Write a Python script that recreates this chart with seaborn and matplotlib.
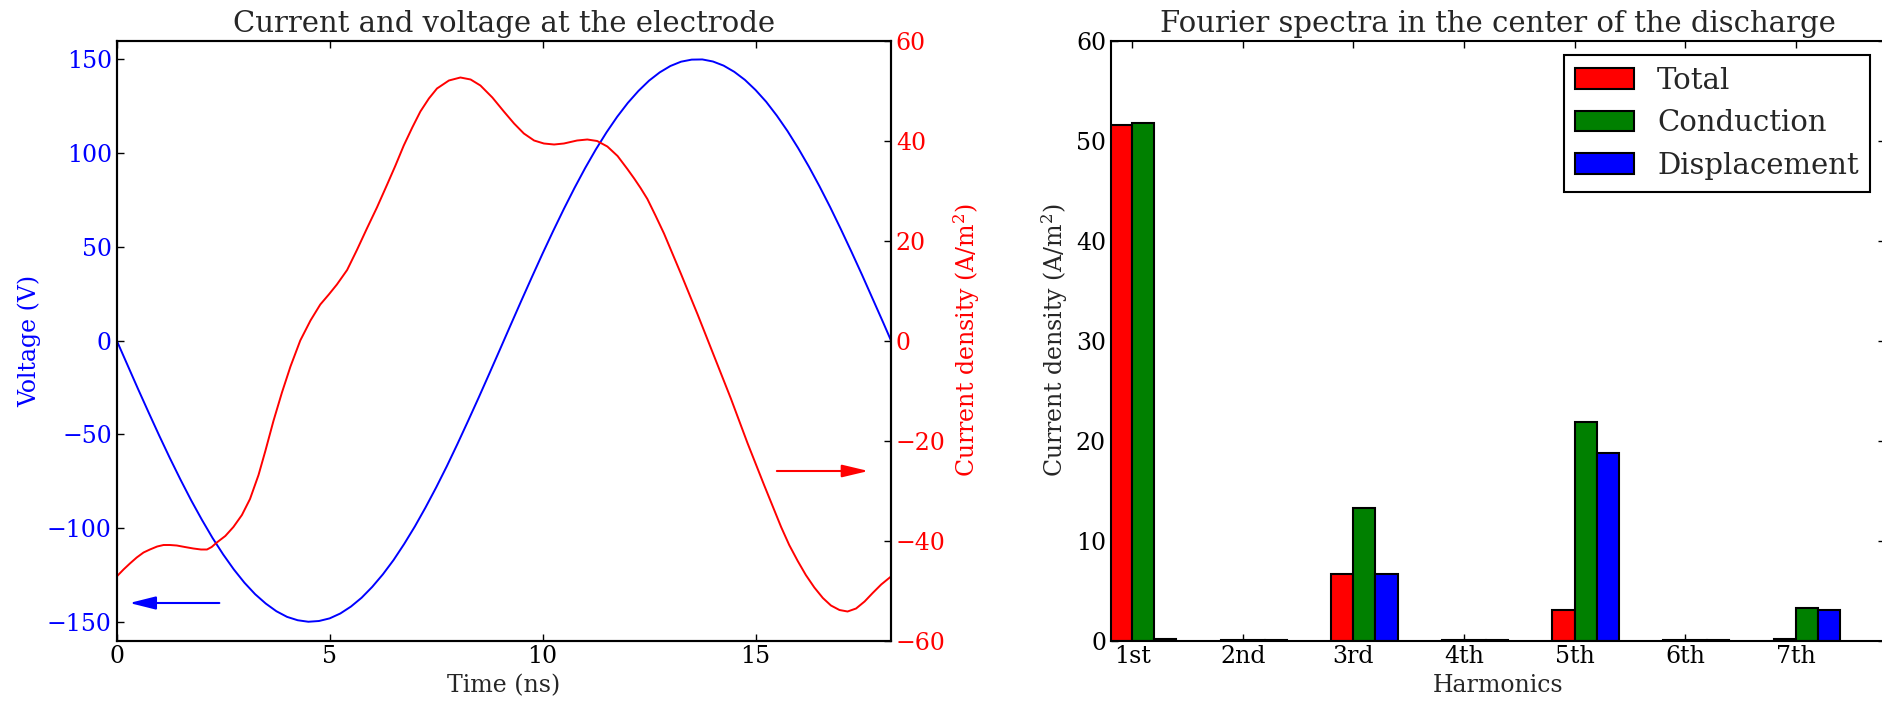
import numpy as np
import pandas as pd
import matplotlib
matplotlib.use("Agg")
import matplotlib.pyplot as plt
from matplotlib.patches import Patch
import seaborn as sns

# Electrode voltage over one RF period (ns, V)
time_v = [0.0, 0.25, 0.5, 0.75, 1.0, 1.25, 1.5, 1.75, 2.0, 2.25, 2.5, 2.75,
          3.0, 3.25, 3.5, 3.75, 4.0, 4.25, 4.5, 4.75, 5.0, 5.25, 5.5, 5.75,
          6.0, 6.25, 6.5, 6.75, 7.0, 7.25, 7.5, 7.75, 8.0, 8.25, 8.5, 8.75,
          9.0, 9.25, 9.5, 9.75, 10.0, 10.25, 10.5, 10.75, 11.0, 11.25, 11.5,
          11.75, 12.0, 12.25, 12.5, 12.75, 13.0, 13.25, 13.5, 13.75, 14.0,
          14.25, 14.5, 14.75, 15.0, 15.25, 15.5, 15.75, 16.0, 16.25, 16.5,
          16.75, 17.0, 17.25, 17.5, 17.75, 18.0, 18.18]
voltage = [0.0, -12.9, -25.8, -38.4, -50.8, -62.8, -74.3, -85.3, -95.6,
           -105.3, -114.1, -122.1, -129.2, -135.3, -140.3, -144.4, -147.4,
           -149.2, -150.0, -149.6, -148.2, -145.6, -141.9, -137.2, -131.4,
           -124.7, -117.1, -108.5, -99.2, -89.1, -78.4, -67.1, -55.2, -42.9,
           -30.4, -17.6, -4.7, 8.3, 21.2, 33.9, 46.4, 58.5, 70.2, 81.4, 92.0,
           101.9, 111.0, 119.3, 126.7, 133.1, 138.6, 143.0, 146.4, 148.7,
           149.8, 149.9, 148.8, 146.6, 143.3, 139.0, 133.6, 127.3, 119.9,
           111.7, 102.6, 92.8, 82.3, 71.2, 59.5, 47.4, 35.0, 22.2, 9.4, 0.0]

# Current density at the electrode (ns, A/m^2)
time_j = [0.00, 0.16, 0.31, 0.47, 0.63, 0.78, 0.95, 1.10, 1.25, 1.41, 1.60,
          1.80, 1.98, 2.12, 2.23, 2.35, 2.55, 2.74, 2.94, 3.13, 3.33, 3.49,
          3.68, 3.88, 4.08, 4.31, 4.55, 4.78, 4.98, 5.17, 5.41, 5.64, 5.88,
          6.11, 6.35, 6.54, 6.74, 6.94, 7.13, 7.33, 7.52, 7.80, 8.07, 8.31,
          8.54, 8.82, 9.09, 9.33, 9.56, 9.80, 10.03, 10.27, 10.50, 10.81,
          11.05, 11.28, 11.52, 11.76, 11.99, 12.15, 12.30, 12.46, 12.65,
          12.85, 13.25, 13.64, 14.03, 14.42, 14.81, 15.20, 15.40, 15.60,
          15.79, 15.99, 16.18, 16.38, 16.58, 16.77, 16.97, 17.16, 17.36,
          17.56, 17.75, 17.95, 18.18]
current = [-47.2, -45.8, -44.6, -43.4, -42.4, -41.8, -41.2, -40.9, -40.9,
           -41.0, -41.3, -41.6, -41.8, -41.8, -41.3, -40.4, -39.1, -37.3,
           -34.9, -31.7, -26.9, -22.1, -16.1, -10.4, -5.2, 0.0, 4.0, 7.2, 9.2,
           11.2, 14.1, 18.1, 22.5, 26.6, 31.2, 34.9, 39.0, 42.6, 45.8, 48.4,
           50.4, 52.0, 52.6, 52.2, 51.0, 48.6, 45.8, 43.4, 41.4, 40.0, 39.4,
           39.2, 39.4, 40.0, 40.2, 39.9, 38.8, 36.9, 34.3, 32.4, 30.5, 28.3,
           25.0, 21.4, 13.3, 5.2, -3.2, -11.6, -20.5, -28.9, -33.1, -37.3,
           -40.9, -44.1, -46.9, -49.4, -51.5, -53.0, -53.9, -54.2, -53.6,
           -52.2, -50.5, -48.8, -47.2]

# Fourier amplitudes in the discharge centre
harmonics = ["1st", "2nd", "3rd", "4th", "5th", "6th", "7th"]
components = ["Total", "Conduction", "Displacement"]
total = [51.57, 0.04, 6.65, 0.04, 3.08, 0.05, 0.2]
conduction = [51.74, 0.04, 13.27, 0.04, 21.85, 0.05, 3.25]
displacement = [0.2, 0.04, 6.65, 0.04, 18.71, 0.07, 3.08]
bar_colors = ["#ff0000", "#008000", "#0000ff"]

sns.set_style("ticks")
plt.rcParams.update({
    "font.family": ["DejaVu Serif"],
    "mathtext.fontset": "dejavuserif",
    "mathtext.default": "regular",
    "xtick.direction": "in",
    "ytick.direction": "in",
    "xtick.major.size": 5,
    "ytick.major.size": 5,
    "xtick.major.width": 1.0,
    "ytick.major.width": 1.0,
    "axes.linewidth": 1.5,
    "axes.edgecolor": "black",
    "xtick.color": "black",
    "ytick.color": "black",
    "lines.solid_joinstyle": "round",
})

TICK = 17
LABEL = 17
TITLE = 21

W, H = 1883, 705
fig = plt.figure(figsize=(W / 100, H / 100), dpi=100)

# ---- left panel: voltage and current density ----
ax1 = fig.add_axes([116.7 / W, 64.5 / H, 774.3 / W, 600 / H])
sns.lineplot(x=time_v, y=voltage, color="blue", lw=1.4, ax=ax1)
ax1.set_xlim(0, 18.18)
ax1.set_ylim(-160, 160)
ax1.set_yticks([-150, -100, -50, 0, 50, 100, 150])
ax1.set_xticks([0, 5, 10, 15])
ax1.tick_params(axis="y", labelcolor="blue", labelsize=TICK)
ax1.tick_params(axis="x", labelsize=TICK, top=True)
ax1.set_xlabel("Time (ns)", fontsize=LABEL)
ax1.set_ylabel("Voltage (V)", fontsize=LABEL, color="blue")
ax1.set_title("Current and voltage at the electrode", fontsize=TITLE)
ax1.annotate("", xy=(0.30, -140), xytext=(2.41, -140),
             arrowprops=dict(arrowstyle="-|>,head_length=16,head_width=4",
                             mutation_scale=1, color="blue", lw=1.5,
                             shrinkA=0, shrinkB=0))

ax1r = ax1.twinx()
sns.lineplot(x=time_j, y=current, color="red", lw=1.4, ax=ax1r)
ax1r.set_ylim(-60, 60)
ax1r.set_yticks([-60, -40, -20, 0, 20, 40, 60])
ax1r.tick_params(axis="y", labelcolor="red", labelsize=TICK)
ax1r.set_ylabel("Current density (A/m$^2$)", fontsize=LABEL, color="red")
ax1r.annotate("", xy=(17.65, -26.1), xytext=(15.50, -26.1),
              arrowprops=dict(arrowstyle="-|>,head_length=16,head_width=3.8",
                              mutation_scale=1, color="red", lw=1.5,
                              shrinkA=0, shrinkB=0))
for sp in ax1r.spines.values():
    sp.set_linewidth(1.5)

# ---- right panel: harmonic spectra ----
spectra = pd.DataFrame({
    "harmonic": harmonics * 3,
    "component": [c for c in components for _ in harmonics],
    "value": total + conduction + displacement,
})
ax2 = fig.add_axes([1110.9 / W, 64.5 / H, 774.0 / W, 600 / H])
sns.barplot(data=spectra, x="harmonic", y="value", hue="component",
            order=harmonics, hue_order=components, palette=bar_colors,
            width=0.6, saturation=1, edgecolor="black", linewidth=1.5,
            errorbar=None, legend=False, ax=ax2)
ax2.set_xlim(-0.293, 6.707)
ax2.set_xticks(np.arange(len(harmonics)) - 0.1, harmonics)
ax2.set_ylim(0, 60)
ax2.set_yticks([0, 10, 20, 30, 40, 50, 60])
ax2.tick_params(axis="both", labelsize=TICK, top=True, right=True)
ax2.set_xlabel("Harmonics", fontsize=LABEL)
ax2.set_ylabel("Current density (A/m$^2$)", fontsize=LABEL)
ax2.set_title("Fourier spectra in the center of the discharge", fontsize=TITLE)
handles = [Patch(facecolor=c, edgecolor="black", linewidth=1.5) for c in bar_colors]
leg = ax2.legend(handles, components, loc="upper right", fontsize=21,
                 frameon=True, fancybox=False, framealpha=1,
                 edgecolor="black", borderaxespad=0.5)
leg.get_frame().set_linewidth(1.5)

fig.savefig("out.png", dpi=100)
